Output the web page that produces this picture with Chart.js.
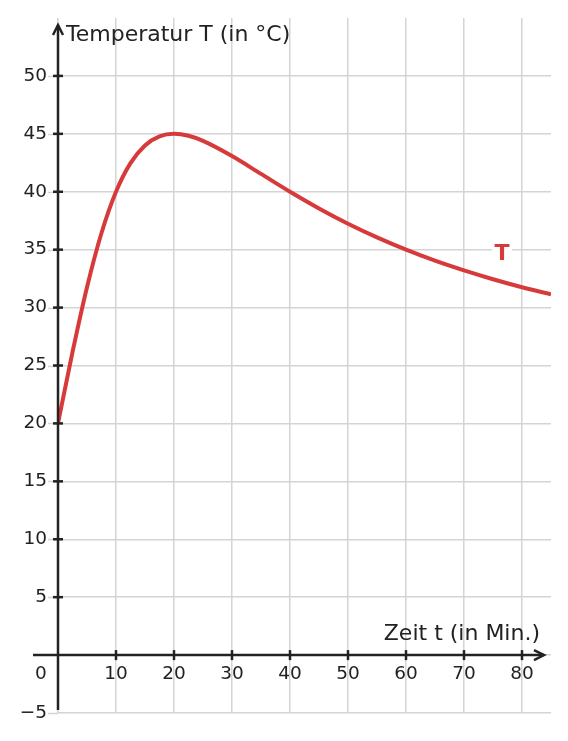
<!DOCTYPE html>
<html>
<head>
<meta charset="utf-8">
<script src="https://cdn.jsdelivr.net/npm/chart.js@4/dist/chart.umd.min.js"></script>
<style>
  html, body { margin: 0; padding: 0; background: #fff; }
  #wrap { width: 568px; height: 741px; }
</style>
</head>
<body>
<div id="wrap"><canvas id="mycanvas" width="568" height="741"></canvas></div>
<script>
// Zeit t (Min.) und Temperatur T (°C)
var zeit = [0, 2.5, 5, 7.5, 10, 12.5, 15, 17.5, 20, 22.5, 25, 30, 35, 40, 45, 50, 55, 60, 65, 70, 75, 80, 85];
var temperatur = [20, 26.15, 31.76, 36.44, 40, 42.47, 44, 44.78, 45, 44.83, 44.39, 43.08, 41.54, 40, 38.56, 37.24, 36.06, 35, 34.05, 33.21, 32.45, 31.76, 31.15];
var xTicks = [10, 20, 30, 40, 50, 60, 70, 80];
var yTicks = [-5, 5, 10, 15, 20, 25, 30, 35, 40, 45, 50];

var FONT = '18.5px "DejaVu Sans"';
var TITLE_FONT = '22px "DejaVu Sans"';
var INK = '#222222';

var points = [];
for (var i = 0; i < zeit.length; i++) {
  points.push({ x: zeit[i], y: temperatur[i] });
}

var axesPlugin = {
  id: 'axes',
  afterDraw: function(chart) {
    var ctx = chart.ctx;
    var xs = chart.scales.x;
    var ys = chart.scales.y;
    var area = chart.chartArea;
    var x0 = xs.getPixelForValue(0);
    var y0 = ys.getPixelForValue(0);

    ctx.save();
    // gray stubs left of the y axis
    ctx.strokeStyle = '#d4d4d4';
    ctx.lineWidth = 1.5;
    yTicks.forEach(function(v) {
      var py = Math.round(ys.getPixelForValue(v)) + 0.5;
      ctx.beginPath();
      ctx.moveTo(area.left - 10, py);
      ctx.lineTo(area.left, py);
      ctx.stroke();
    });

    ctx.strokeStyle = INK;
    ctx.lineWidth = 2.5;
    ctx.lineCap = 'butt';
    // x axis
    ctx.beginPath();
    ctx.moveTo(33, y0);
    ctx.lineTo(544, y0);
    ctx.stroke();
    ctx.beginPath();
    ctx.moveTo(534, y0 - 5);
    ctx.lineTo(544, y0);
    ctx.lineTo(534, y0 + 5);
    ctx.stroke();
    // y axis
    ctx.beginPath();
    ctx.moveTo(x0, ys.getPixelForValue(-5) - 3);
    ctx.lineTo(x0, 25);
    ctx.stroke();
    ctx.beginPath();
    ctx.moveTo(x0 - 5, 35);
    ctx.lineTo(x0, 25);
    ctx.lineTo(x0 + 5, 35);
    ctx.stroke();

    // tick marks
    xTicks.forEach(function(v) {
      var px = xs.getPixelForValue(v);
      ctx.beginPath();
      ctx.moveTo(px, y0 - 5);
      ctx.lineTo(px, y0 + 5);
      ctx.stroke();
    });
    yTicks.forEach(function(v) {
      if (v < 0) return;
      var py = ys.getPixelForValue(v);
      ctx.beginPath();
      ctx.moveTo(x0 - 5, py);
      ctx.lineTo(x0 + 5, py);
      ctx.stroke();
    });

    // labels
    ctx.fillStyle = INK;
    ctx.font = FONT;
    ctx.textBaseline = 'middle';
    ctx.textAlign = 'center';
    xTicks.forEach(function(v) {
      ctx.fillText(String(v), xs.getPixelForValue(v), y0 + 19);
    });
    ctx.fillText('0', x0 - 17, y0 + 19);
    ctx.textAlign = 'right';
    yTicks.forEach(function(v) {
      var txt = v < 0 ? '\u2212' + Math.abs(v) : String(v);
      ctx.fillText(txt, x0 - 11, ys.getPixelForValue(v));
    });

    // axis titles
    ctx.font = TITLE_FONT;
    ctx.textAlign = 'left';
    ctx.fillText('Temperatur T (in \u00b0C)', x0 + 8, 35);
    ctx.textAlign = 'right';
    ctx.fillText('Zeit t (in Min.)', 540, y0 - 21);

    // curve label
    ctx.font = 'bold 22px "DejaVu Sans"';
    ctx.textAlign = 'center';
    ctx.fillStyle = '#ffffff';
    ctx.fillRect(492, 241, 20, 24);
    ctx.fillStyle = '#d63a3a';
    ctx.fillText('T', 502, 254);
    ctx.restore();
  }
};

var ctx = document.getElementById('mycanvas');

var tempChart = new Chart(ctx, {
  type: 'scatter',
  data: {
    datasets: [
      {
        label: 'T',
        data: points,
        showLine: true,
        borderColor: '#d63a3a',
        borderWidth: 4,
        pointRadius: 0,
        cubicInterpolationMode: 'monotone',
        fill: false
      }
    ]
  },
  options: {
    responsive: false,
    animation: false,
    layout: { padding: { left: 58, right: 17, top: 18, bottom: 28 } },
    plugins: {
      legend: { display: false },
      tooltip: { enabled: false }
    },
    scales: {
      x: {
        type: 'linear',
        min: 0,
        max: 85,
        ticks: { display: false, stepSize: 10 },
        border: { display: false },
        grid: {
          drawTicks: false,
          lineWidth: 1.5,
          color: function(c) {
            var v = c.tick ? c.tick.value : 0;
            return (v % 10 === 0) ? '#d4d4d4' : 'rgba(0,0,0,0)';
          }
        }
      },
      y: {
        type: 'linear',
        min: -5,
        max: 55,
        ticks: { display: false, stepSize: 5 },
        border: { display: false },
        grid: {
          drawTicks: false,
          lineWidth: 1.5,
          color: function(c) {
            var v = c.tick ? c.tick.value : 0;
            return (v === 55) ? 'rgba(0,0,0,0)' : '#d4d4d4';
          }
        }
      }
    }
  },
  plugins: [axesPlugin]
});
</script>
</body>
</html>
